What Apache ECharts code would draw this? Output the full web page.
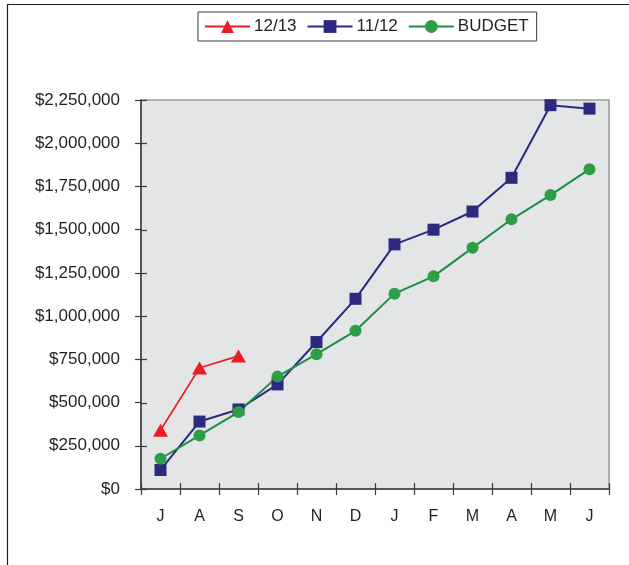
<!DOCTYPE html>
<html>
<head>
<meta charset="utf-8">
<script src="https://cdn.jsdelivr.net/npm/echarts@6/dist/echarts.min.js"></script>
<style>
  html, body { margin: 0; padding: 0; background: #fff; }
  #chart { width: 629px; height: 565px; }
</style>
</head>
<body>
<div id="chart"></div>
<script>
// Fiscal-year months, July through June
const months = ['J', 'A', 'S', 'O', 'N', 'D', 'J', 'F', 'M', 'A', 'M', 'J'];

// Cumulative revenue by month
const season1213 = [340000, 700000, 770000];
const season1112 = [110000, 390000, 460000, 605000, 850000, 1100000, 1415000, 1500000, 1605000, 1800000, 2220000, 2200000];
const budget = [175000, 310000, 445000, 650000, 780000, 915000, 1130000, 1230000, 1395000, 1560000, 1700000, 1850000];

const seriesNames = ['12/13', '11/12', 'BUDGET'];

const yMin = 0;
const yMax = 2250000;
const yStep = 250000;

const FONT = '"Liberation Sans", Arial, Helvetica, sans-serif';
const INK = '#231f20';
const AXIS = '#3a3a3a';
const TICK = 6;

function money(v) {
  return '$' + Math.round(v).toString().replace(/\B(?=(\d{3})+(?!\d))/g, ',');
}

const chart = echarts.init(document.getElementById('chart'), null, { renderer: 'canvas' });

const axisLine = { show: true, lineStyle: { color: AXIS, width: 1.5 } };
const tickStyle = { color: AXIS, width: 1.2 };

const frame = {
  type: 'rect',
  left: 5, top: 2,
  shape: { width: 800, height: 800 },
  style: { fill: 'none', stroke: INK, lineWidth: 1.2 },
  silent: true, z: 100
};

chart.setOption({
  animation: false,
  backgroundColor: '#ffffff',
  graphic: [frame],
  legend: {
    left: 198, top: 12,
    padding: [6, 8, 6, 6],
    itemWidth: 45, itemHeight: 16, itemGap: 10,
    borderColor: AXIS, borderWidth: 1,
    textStyle: { fontFamily: FONT, fontSize: 17, color: INK, padding: [0, 0, 0, -1] },
    data: seriesNames
  },
  grid: {
    left: 141, right: 20, top: 100, bottom: 76,
    show: true, backgroundColor: '#e4e5e7', borderColor: '#9a9a9a', borderWidth: 1.5
  },
  xAxis: {
    type: 'category', data: months, boundaryGap: true, position: 'bottom',
    axisLine: axisLine,
    axisTick: { show: true, length: TICK, lineStyle: tickStyle },
    axisLabel: { fontFamily: FONT, fontSize: 16, color: INK, margin: 20 },
    splitLine: { show: false }
  },
  yAxis: {
    type: 'value', min: yMin, max: yMax, interval: yStep, position: 'left',
    axisLine: axisLine,
    axisTick: { show: true, length: TICK, lineStyle: tickStyle },
    axisLabel: { fontFamily: FONT, fontSize: 17, color: INK, margin: 21, formatter: money },
    splitLine: { show: false }
  },
  series: [{
    name: seriesNames[0], type: 'line', data: season1213,
    symbol: 'triangle', symbolSize: [15, 13], showAllSymbol: true,
    lineStyle: { color: '#ed1c24', width: 1.6 },
    itemStyle: { color: '#ed1c24' }
  }, {
    name: seriesNames[1], type: 'line', data: season1112,
    symbol: 'rect', symbolSize: 12, showAllSymbol: true,
    lineStyle: { color: '#2b2a7c', width: 2 },
    itemStyle: { color: '#2b2a7c' }
  }, {
    name: seriesNames[2], type: 'line', data: budget,
    symbol: 'circle', symbolSize: 12, showAllSymbol: true,
    lineStyle: { color: '#1a8f45', width: 2 },
    itemStyle: { color: '#2e9e46' }
  }]
});

// Tick marks cross the axes: add the inward half, placed through the axis scales.
const innerTicks = [];
const x0 = chart.convertToPixel({ xAxisIndex: 0 }, 0);
const x1 = chart.convertToPixel({ xAxisIndex: 0 }, 1);
const band = x1 - x0;
const axisX = x0 - band / 2;
const axisY = chart.convertToPixel({ yAxisIndex: 0 }, yMin);
for (let v = yMin; v <= yMax; v += yStep) {
  const py = Math.round(chart.convertToPixel({ yAxisIndex: 0 }, v)) + 0.5;
  innerTicks.push({
    type: 'line', silent: true, z: 50,
    shape: { x1: axisX, y1: py, x2: axisX + TICK, y2: py },
    style: { stroke: AXIS, lineWidth: 1.2 }
  });
}
for (let k = 0; k <= months.length; k++) {
  const px = Math.round(axisX + k * band) + 0.5;
  innerTicks.push({
    type: 'line', silent: true, z: 50,
    shape: { x1: px, y1: axisY, x2: px, y2: axisY - TICK },
    style: { stroke: AXIS, lineWidth: 1.2 }
  });
}
chart.setOption({ graphic: [frame].concat(innerTicks) }, { replaceMerge: ['graphic'] });
</script>
</body>
</html>
